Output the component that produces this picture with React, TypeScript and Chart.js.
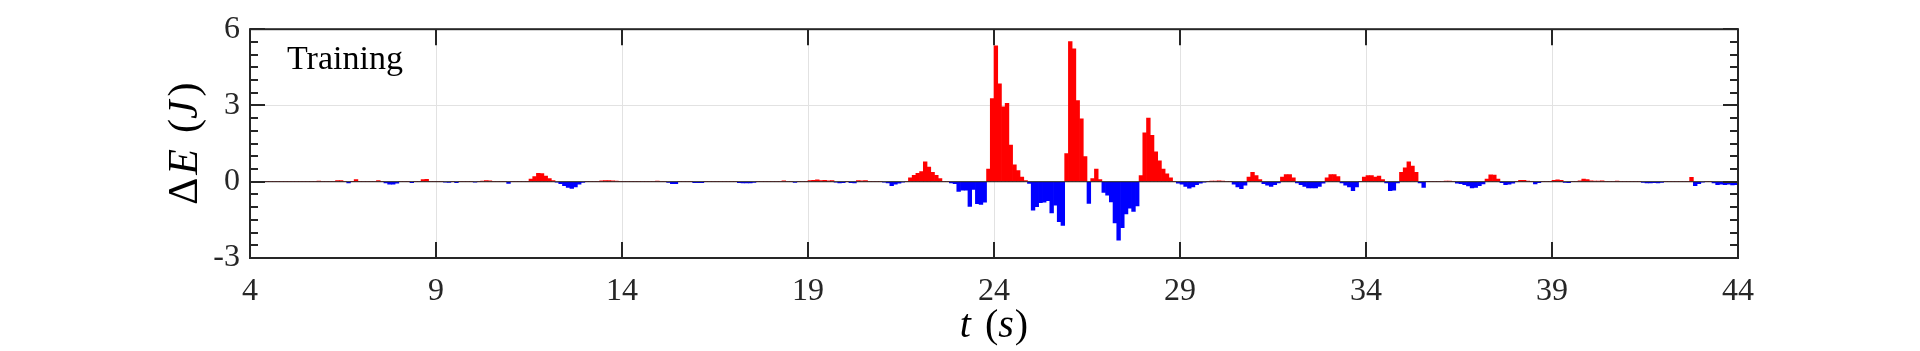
import React, { useEffect, useRef } from "react";
import { Chart, registerables } from "chart.js";
Chart.register(...registerables);

// Time grid of the bars (s)
const T_START = 4;
const DT = 0.1;

// ΔE (J), one value per 0.1 s bin, t = 4.0 … 13.9
const deltaE_04_14 = [
  0, 0, 0, 0, 0, 0, 0, 0, 0, 0,
  0, 0, 0, 0, 0, 0, 0, 0.02, 0.03, 0.02,
  0, 0, 0.02, 0.05, 0.05, 0, -0.05, 0.01, 0.08, 0.02,
  0, 0, 0, 0, 0.05, 0, -0.05, -0.1, -0.1, -0.06,
  0, 0, 0, -0.04, 0, 0, 0.08, 0.09, 0, 0,
  0, 0, -0.02, -0.03, 0, -0.04, 0, 0, 0, 0,
  -0.02, 0, 0.03, 0.05, 0.04, 0, 0, 0, 0, -0.07,
  0, 0, 0, 0, 0, 0.1, 0.2, 0.33, 0.32, 0.22,
  0.12, 0.05, -0.02, -0.08, -0.15, -0.22, -0.26, -0.2, -0.1, -0.03,
  0, 0, 0, 0.02, 0.04, 0.05, 0.05, 0.04, 0.03, 0,
];
// t = 14.0 … 23.9
const deltaE_14_24 = [
  0.02, 0.02, 0.02, 0.02, 0.02, 0, 0, 0, 0, 0.03,
  0, 0, -0.03, -0.08, -0.08, 0, 0, 0, 0, -0.04,
  -0.04, -0.04, 0, 0, 0.02, 0, 0, 0, 0, 0,
  0, -0.04, -0.05, -0.05, -0.05, -0.03, 0, 0, 0, 0,
  0, 0, 0, 0.04, 0, 0, -0.03, 0, 0, 0,
  0.05, 0.06, 0.07, 0.05, 0.06, 0.04, 0.05, -0.02, -0.05, -0.04,
  0, -0.04, -0.05, 0.05, 0.04, 0.05, 0, 0, 0, 0,
  -0.02, -0.05, -0.15, -0.1, -0.06, -0.02, 0, 0.15, 0.25, 0.33,
  0.4, 0.78, 0.58, 0.37, 0.25, 0.12, 0, 0, -0.05, -0.08,
  -0.38, -0.33, -0.33, -0.97, -0.3, -0.86, -0.89, -0.8, 0.5, 3.27,
];
// t = 24.0 … 33.9
const deltaE_24_34 = [
  5.35, 3.85, 2.95, 3.08, 1.44, 0.66, 0.44, 0.18, 0.05, -0.07,
  -1.12, -0.98, -0.82, -0.8, -0.74, -1.23, -0.92, -1.57, -1.72, 1.11,
  5.51, 5.23, 3.19, 2.47, 0.99, -0.85, 0.12, 0.5, 0.08, -0.42,
  -0.53, -0.79, -1.62, -2.3, -1.81, -1.27, -1.04, -1.17, -0.95, 0.24,
  1.92, 2.5, 1.83, 1.18, 0.82, 0.5, 0.31, 0.15, 0.02, -0.06,
  -0.1, -0.18, -0.25, -0.2, -0.12, -0.06, -0.02, 0.02, 0.03, 0.03,
  0.04, 0.03, 0.02, 0.02, -0.1, -0.2, -0.27, -0.14, 0.18, 0.37,
  0.24, 0.08, -0.08, -0.14, -0.18, -0.12, -0.05, 0.18, 0.28, 0.28,
  0.15, -0.05, -0.12, -0.18, -0.24, -0.24, -0.24, -0.18, -0.06, 0.15,
  0.28, 0.28, 0.2, -0.05, -0.14, -0.2, -0.35, -0.2, 0, 0.18,
];
// t = 34.0 … 43.9
const deltaE_34_44 = [
  0.24, 0.24, 0.18, 0.22, 0.08, -0.05, -0.35, -0.33, -0.05, 0.37,
  0.55, 0.78, 0.62, 0.37, -0.05, -0.22, 0, 0, 0, 0.02,
  0.02, 0.03, 0.03, 0.02, -0.06, -0.08, -0.12, -0.16, -0.24, -0.22,
  -0.15, -0.09, 0.1, 0.27, 0.26, 0.1, -0.04, -0.12, -0.1, -0.06,
  0, 0.06, 0.06, 0.03, 0, -0.09, -0.04, 0, 0, 0,
  0.06, 0.07, 0.06, -0.03, -0.04, 0, 0, 0.04, 0.1, 0.08,
  0.04, 0.03, 0.03, 0.04, 0.02, 0, 0, 0.03, 0.02, 0,
  0, 0, 0, 0, -0.03, -0.05, -0.05, -0.04, -0.05, -0.03,
  0, 0, 0, 0, 0, 0, 0, 0.17, -0.15, -0.08,
  -0.02, 0, 0, -0.05, -0.12, -0.1, -0.12, -0.1, -0.13, -0.12,
];

const xTickValues = [4, 9, 14, 19, 24, 29, 34, 39, 44];
const yTickValues = [-3, 0, 3, 6];
const yMinorTickValues = [-2.5, -2, -1.5, -1, -0.5, 0.5, 1, 1.5, 2, 2.5, 3.5, 4, 4.5, 5, 5.5];
const panelLabel = "Training";

const SERIF = '"Liberation Serif", "Times New Roman", serif';
const AXIS_COLOR = "#262626";
const POS_COLOR = "#ff0000";
const NEG_COLOR = "#0000ff";

type Part = { text: string; italic?: boolean; gap?: number };

function drawParts(ctx: CanvasRenderingContext2D, parts: Part[], size: number, cx: number, cy: number) {
  const fontFor = (p: Part) => `${p.italic ? "italic " : ""}${size}px ${SERIF}`;
  let total = 0;
  const widths = parts.map((p) => {
    ctx.font = fontFor(p);
    const w = ctx.measureText(p.text).width + (p.gap || 0);
    total += w;
    return w;
  });
  let x = cx - total / 2;
  ctx.textBaseline = "middle";
  ctx.textAlign = "left";
  parts.forEach((p, i) => {
    ctx.font = fontFor(p);
    ctx.fillText(p.text, x, cy);
    x += widths[i];
  });
}

const framePlugin = {
  id: "matlabFrame",
  afterDatasetsDraw(chart: any) {
    const { ctx, chartArea: a, scales } = chart;
    const xs = scales.x;
    const ys = scales.y;
    ctx.save();
    // zero baseline
    const y0 = ys.getPixelForValue(0);
    ctx.strokeStyle = "#1a1a1a";
    ctx.lineWidth = 1;
    ctx.beginPath();
    ctx.moveTo(a.left, y0);
    ctx.lineTo(a.right, y0);
    ctx.stroke();

    ctx.strokeStyle = AXIS_COLOR;
    ctx.lineWidth = 2;
    ctx.beginPath();
    // x major ticks (inward, top & bottom)
    xTickValues.forEach((v) => {
      const px = Math.round(xs.getPixelForValue(v));
      ctx.moveTo(px, a.bottom);
      ctx.lineTo(px, a.bottom - 16);
      ctx.moveTo(px, a.top);
      ctx.lineTo(px, a.top + 16);
    });
    // y major ticks
    yTickValues.forEach((v) => {
      const py = Math.round(ys.getPixelForValue(v));
      ctx.moveTo(a.left, py);
      ctx.lineTo(a.left + 15, py);
      ctx.moveTo(a.right, py);
      ctx.lineTo(a.right - 15, py);
    });
    // y minor ticks
    yMinorTickValues.forEach((v) => {
      const py = Math.round(ys.getPixelForValue(v));
      ctx.moveTo(a.left, py);
      ctx.lineTo(a.left + 8, py);
      ctx.moveTo(a.right, py);
      ctx.lineTo(a.right - 8, py);
    });
    ctx.stroke();
    // box
    ctx.strokeRect(a.left, a.top, a.right - a.left, a.bottom - a.top);

    ctx.fillStyle = "#000";
    ctx.font = `34px ${SERIF}`;
    ctx.textBaseline = "alphabetic";
    ctx.textAlign = "left";
    ctx.fillText(panelLabel, a.left + 37, a.top + 40);

    ctx.fillStyle = "#000";
    // x axis title
    drawParts(
      ctx,
      [{ text: "t", italic: true, gap: 14 }, { text: "(" }, { text: "s", italic: true, gap: 1 }, { text: ")" }],
      40,
      (a.left + a.right) / 2,
      326
    );
    // y axis title
    ctx.save();
    ctx.translate(186, (a.top + a.bottom) / 2);
    ctx.rotate(-Math.PI / 2);
    drawParts(
      ctx,
      [{ text: "Δ", gap: 3 }, { text: "E", italic: true, gap: 16 }, { text: "(" }, { text: "J", italic: true, gap: 4 }, { text: ")" }],
      42,
      0,
      0
    );
    ctx.restore();
    ctx.restore();
  },
};

export default function App() {
  const ref = useRef<HTMLCanvasElement>(null);
  useEffect(() => {
    const deltaE = [...deltaE_04_14, ...deltaE_14_24, ...deltaE_24_34, ...deltaE_34_44];
    const points = deltaE.map((y, i) => ({ x: T_START + DT * (i + 0.5), y }));
    const chart = new Chart(ref.current as HTMLCanvasElement, {
      type: "bar",
      data: {
        datasets: [
          {
            data: points as any,
            backgroundColor: deltaE.map((v) => (v >= 0 ? POS_COLOR : NEG_COLOR)),
            borderWidth: 0,
            barPercentage: 1,
            categoryPercentage: 1,
          },
        ],
      },
      options: {
        responsive: false,
        maintainAspectRatio: false,
        animation: false,
        layout: { padding: { left: 0, right: 182, top: 25, bottom: 0 } },
        plugins: { legend: { display: false }, tooltip: { enabled: false } },
        scales: {
          x: {
            type: "linear",
            min: 4,
            max: 44,
            offset: false,
            afterBuildTicks: (s: any) => {
              s.ticks = xTickValues.map((v) => ({ value: v }));
            },
            afterFit: (s: any) => {
              s.height = 93;
            },
            grid: { color: "#e2e2e2", lineWidth: 1, drawTicks: false, offset: false },
            border: { display: false },
            ticks: {
              color: AXIS_COLOR,
              font: { family: SERIF, size: 32 },
              padding: 14,
              maxRotation: 0,
              autoSkip: false,
              callback: (v: any) => String(v),
            },
          },
          y: {
            min: -3,
            max: 6,
            afterBuildTicks: (s: any) => {
              s.ticks = yTickValues.map((v) => ({ value: v }));
            },
            afterFit: (s: any) => {
              s.width = 250;
            },
            grid: { color: "#e2e2e2", lineWidth: 1, drawTicks: false },
            border: { display: false },
            ticks: {
              color: AXIS_COLOR,
              font: { family: SERIF, size: 32 },
              padding: 10,
              autoSkip: false,
              callback: (v: any) => String(v),
            },
          },
        },
      },
      plugins: [framePlugin],
    });
    return () => chart.destroy();
  }, []);
  return (
    <div style={{ position: "absolute", left: 0, top: 0, width: 1920, height: 351, background: "#fff" }}>
      <canvas ref={ref} width={1920} height={351} style={{ display: "block" }} />
    </div>
  );
}
